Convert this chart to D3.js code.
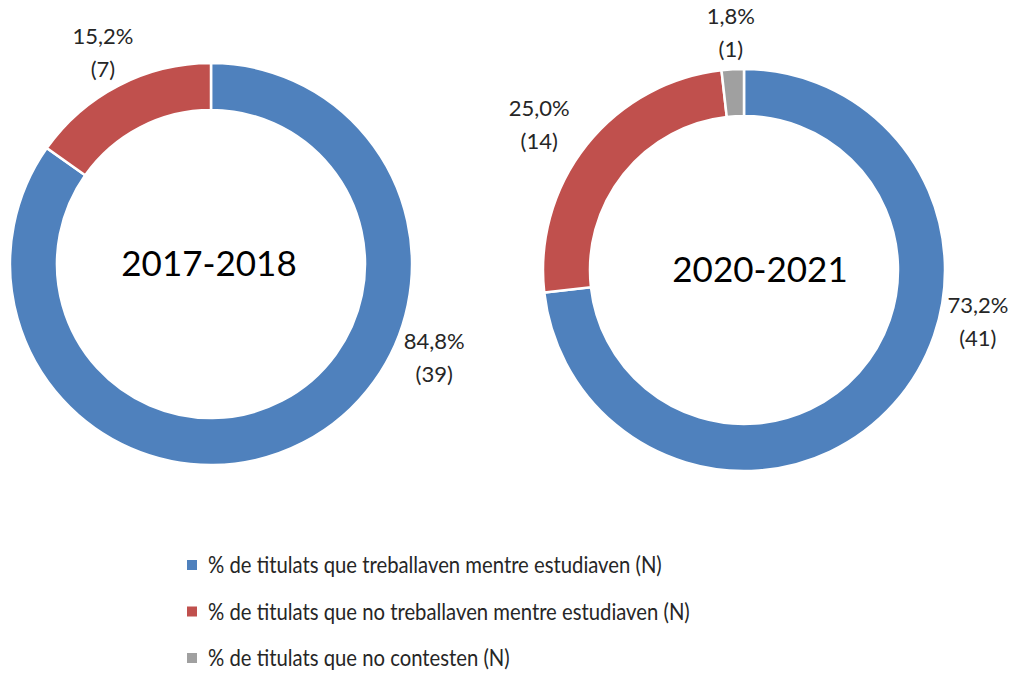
<!DOCTYPE html>
<html>
<head>
<meta charset="utf-8">
<script src="https://cdn.jsdelivr.net/npm/d3@7"></script>
<style>
  body { margin: 0; background: #fff; }
  svg { display: block; font-family: Lato, "Open Sans", sans-serif; }
</style>
</head>
<body>
<div id="chart"></div>
<script>
// dades
const categories = [
  "% de titulats que treballaven mentre estudiaven (N)",
  "% de titulats que no treballaven mentre estudiaven (N)",
  "% de titulats que no contesten (N)"
];
const years = ["2017-2018", "2020-2021"];
const counts2017 = [39, 7, 0];
const counts2020 = [41, 14, 1];
const colors = ["#4f81bd", "#c0504d", "#a0a0a0"];

// mise en page
const width = 1019;
const height = 676;
const outerR = 201;
const innerR = 154;
// labelPos : [angle en degrés, rayon] quand l'étiquette n'est pas au milieu de la part
const donuts = [
  { year: years[0], counts: counts2017, cx: 211, cy: 264, titleDx: -2, labelPos: [[113.3, 243], null, null] },
  { year: years[1], counts: counts2020, cx: 744, cy: 270, titleDx: 16, labelPos: [[103, 240], [305, 250], null] }
];

const svg = d3.select("#chart").append("svg")
  .attr("width", width)
  .attr("height", height)
  .attr("viewBox", [0, 0, width, height]);

const pie = d3.pie().sort(null).value(d => d.value);
const arc = d3.arc().innerRadius(innerR).outerRadius(outerR);
const fmt = v => d3.format(".1f")(v).replace(".", ",") + "%";

donuts.forEach(dn => {
  const total = d3.sum(dn.counts);
  const slices = pie(dn.counts.map((v, i) => ({ value: v, i }))).filter(s => s.value > 0);
  const g = svg.append("g").attr("transform", `translate(${dn.cx},${dn.cy})`);

  g.selectAll("path")
    .data(slices)
    .join("path")
    .attr("d", arc)
    .attr("fill", d => colors[d.data.i])
    .attr("stroke", "#fff")
    .attr("stroke-width", 2.5);

  // étiquettes
  slices.forEach(s => {
    const pos = dn.labelPos[s.data.i];
    const a = pos ? pos[0] * Math.PI / 180 : (s.startAngle + s.endAngle) / 2;
    const r = pos ? pos[1] : 235;
    const x = Math.sin(a) * r;
    const y = -Math.cos(a) * r;
    const t = g.append("text")
      .attr("x", x)
      .attr("y", y)
      .attr("text-anchor", "middle")
      .attr("fill", "#262626")
      .style("font-size", "22px");
    t.append("tspan").attr("x", x).attr("dy", "-0.5em").text(fmt(s.value / total * 100));
    t.append("tspan").attr("x", x).attr("dy", "1.5em").text(`(${s.value})`);
  });

  g.append("text")
    .attr("x", dn.titleDx)
    .attr("y", 0)
    .attr("dy", "0.35em")
    .attr("text-anchor", "middle")
    .attr("fill", "#000")
    .style("font-size", "35px")
    .text(dn.year);
});

// légende
const legend = svg.append("g").attr("transform", "translate(187,565)");
const items = legend.selectAll("g")
  .data(categories)
  .join("g")
  .attr("transform", (d, i) => `translate(0,${i * 46.5})`);
items.append("rect")
  .attr("x", 0)
  .attr("y", -5)
  .attr("width", 10)
  .attr("height", 10)
  .attr("fill", (d, i) => colors[i]);
items.append("text")
  .attr("transform", "translate(21,0) scale(0.845,1)")
  .attr("dy", "0.35em")
  .attr("fill", "#262626")
  .style("font-size", "24px")
  .text(d => d);
</script>
</body>
</html>
